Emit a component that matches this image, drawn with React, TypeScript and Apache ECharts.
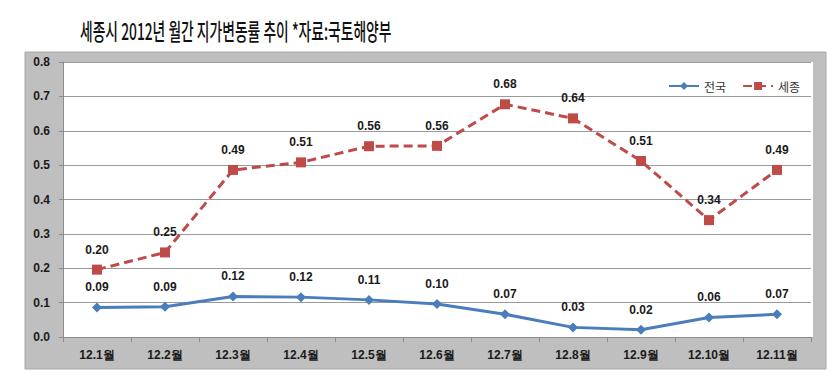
import React, { useEffect, useRef } from "react";
import * as echarts from "echarts";

const categories = ["12.1월", "12.2월", "12.3월", "12.4월", "12.5월", "12.6월", "12.7월", "12.8월", "12.9월", "12.10월", "12.11월"];
const nationValues = [0.086, 0.088, 0.118, 0.116, 0.108, 0.096, 0.066, 0.028, 0.021, 0.057, 0.066];
const sejongValues = [0.196, 0.246, 0.486, 0.508, 0.555, 0.556, 0.677, 0.636, 0.512, 0.34, 0.486];
const seriesNames = ["전국", "세종"];
const titleText = "세종시 2012년 월간 지가변동률 추이 *자료:국토해양부";

export default function App() {
  const ref = useRef<HTMLDivElement>(null);
  useEffect(() => {
    if (!ref.current) return;
    const chart = echarts.init(ref.current, null, { renderer: "svg" });
    const labelCfg = {
      show: true,
      position: "top",
      distance: 9,
      fontFamily: "Liberation Sans, Arial, sans-serif",
      fontWeight: "bold",
      fontSize: 12,
      color: "#1a1a1a",
      formatter: (p: any) => Number(p.value).toFixed(2),
    };
    chart.setOption({
      animation: false,
      backgroundColor: "#ffffff",
      graphic: [
        {
          type: "rect",
          z: -10,
          silent: true,
          shape: { x: 25, y: 52, width: 801, height: 317 },
          style: { fill: "#bfbfbf", stroke: "#a8a8a8", lineWidth: 1 },
        },
        {
          type: "rect",
          z: -9,
          silent: true,
          shape: { x: 63, y: 62, width: 750, height: 275 },
          style: { fill: "#ffffff" },
        },
        {
          type: "text",
          x: 80,
          y: 30,
          scaleX: 0.6,
          style: {
            text: titleText,
            fontFamily: "Noto Sans CJK KR",
            fontSize: 23,
            fontWeight: 500,
            fill: "#111",
            verticalAlign: "middle",
            align: "left",
          },
        },
      ],
      legend: {
        left: 663,
        top: 75,
        itemWidth: 30,
        itemHeight: 10,
        itemGap: 16,
        textStyle: { fontFamily: "Noto Sans CJK KR", fontSize: 12, color: "#333" },
        data: seriesNames,
      },
      grid: { left: 63, right: 29, top: 62, bottom: 49 },
      xAxis: {
        type: "category",
        data: categories,
        boundaryGap: true,
        axisLine: { lineStyle: { color: "#8c8c8c" } },
        axisTick: { show: true, lineStyle: { color: "#8c8c8c" } },
        axisLabel: {
          fontFamily: "Liberation Sans, Arial, sans-serif",
          fontWeight: "bold",
          fontSize: 12,
          color: "#1a1a1a",
          margin: 12,
        },
      },
      yAxis: {
        type: "value",
        min: 0,
        max: 0.8,
        interval: 0.1,
        axisLine: { show: true, lineStyle: { color: "#8c8c8c" } },
        axisTick: { show: true, length: 4, lineStyle: { color: "#8c8c8c" } },
        splitLine: { lineStyle: { color: "#9a9a9a" } },
        axisLabel: {
          formatter: (v: number) => v.toFixed(1),
          fontFamily: "Liberation Sans, Arial, sans-serif",
          fontWeight: "bold",
          fontSize: 12,
          color: "#1a1a1a",
          margin: 13,
        },
      },
      series: [
        {
          name: seriesNames[0],
          type: "line",
          data: nationValues,
          symbol: "diamond",
          symbolSize: 10,
          lineStyle: { color: "#4a7ebb", width: 3 },
          itemStyle: { color: "#4a7ebb" },
          label: labelCfg,
        },
        {
          name: seriesNames[1],
          type: "line",
          data: sejongValues,
          symbol: "rect",
          symbolSize: 10,
          lineStyle: { color: "#be4b48", width: 3, type: [9, 5] },
          itemStyle: { color: "#be4b48" },
          label: labelCfg,
        },
      ],
    });
    return () => chart.dispose();
  }, []);
  return (
    <div
      ref={ref}
      style={{ position: "fixed", left: 0, top: 0, width: 840, height: 386 }}
    />
  );
}
